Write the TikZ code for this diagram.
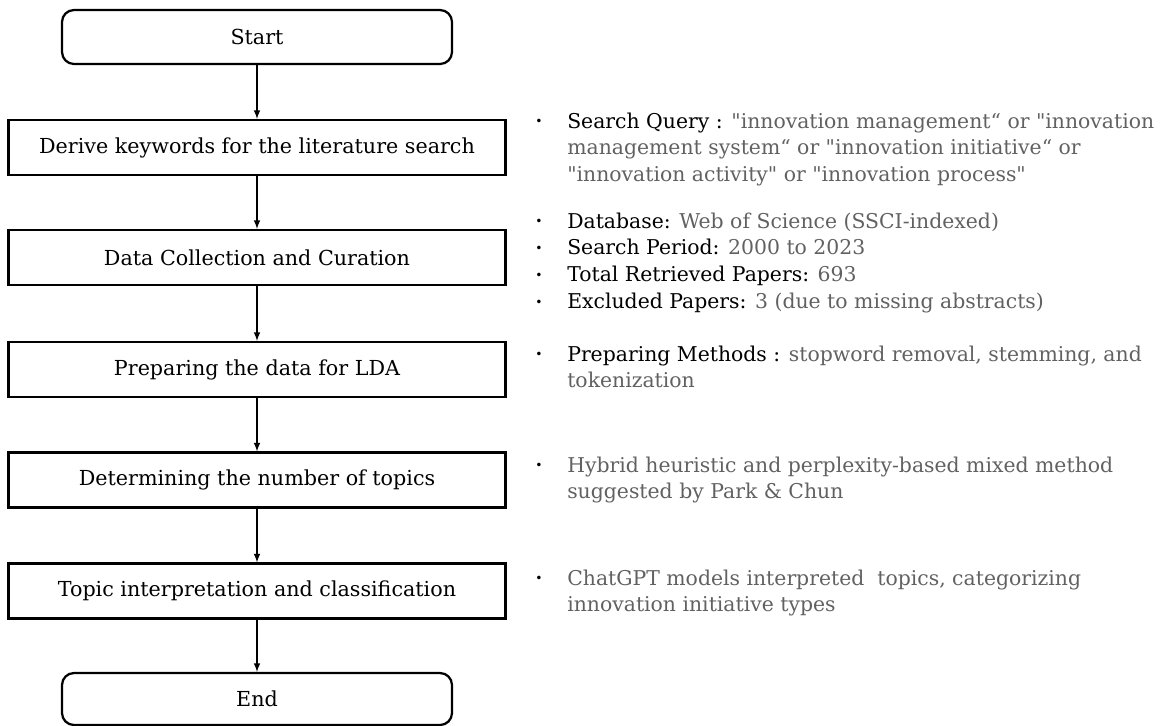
\documentclass[tikz,border=0pt]{standalone}
\usepackage{fontspec}
\setmainfont{DejaVu Serif}[Ligatures=TeXOff]
\usepackage{array}
\usepackage{graphicx}

\colorlet{notegray}{black!62}
\newcommand{\boxfont}{\fontsize{14.7}{18}\selectfont}
\newcommand{\notefont}{\fontsize{14.5}{19.2}\selectfont}
\newcommand{\lbl}[1]{{\color{black}#1}}
\newcommand{\dotmark}{\leavevmode{\color{black}\raisebox{0.12em}{\scalebox{0.6}{\textbullet}}}}

\tikzset{
  terminal/.style={draw,line width=1.6pt,rounded corners=0.3cm,minimum width=9.75cm,minimum height=1.35cm,font=\boxfont},
  process/.style={draw,line width=1.6pt,minimum width=12.425cm,minimum height=1.375cm,font=\boxfont},
  note/.style={anchor=base west,inner sep=0pt,text=notegray,font=\notefont},
  flow/.style={-latex,line width=1.1pt}
}

\begin{document}
\begin{tikzpicture}
\useasboundingbox (0,0) rectangle (29.2,-18.15);

% flow chart
\node (start)  at (6.425, -0.925)  [terminal] {Start};
\node (derive) at (6.425, -3.6875) [process]  {Derive keywords for the literature search};
\node (data)   at (6.425, -6.4375) [process]  {Data Collection and Curation};
\node (prep)   at (6.425, -9.2375) [process]  {Preparing the data for LDA};
\node (ntop)   at (6.425,-12.0)    [process]  {Determining the number of topics};
\node (interp) at (6.425,-14.775)  [process]  {Topic interpretation and classification};
\node (end)    at (6.425,-17.475)  [terminal,minimum height=1.3cm] {End};

\draw [flow] (start)  -- (derive);
\draw [flow] (derive) -- (data);
\draw [flow] (data)   -- (prep);
\draw [flow] (prep)   -- (ntop);
\draw [flow] (ntop)   -- (interp);
\draw [flow] (interp) -- (end);

% notes
\node (query) at (13.375, -3.2) [note] {\begin{tabular}[t]{@{}p{0.8cm}@{}l@{}}
  \dotmark & \lbl{Search Query :} "innovation management“ or "innovation\\
  & management system“ or "innovation initiative“ or\\
  & "innovation activity" or "innovation process"
\end{tabular}};
\node (source) at (13.375, -5.7) [note] {\begin{tabular}[t]{@{}p{0.8cm}@{}l@{}}
  \dotmark & \lbl{Database:} Web of Science (SSCI-indexed)\\
  \dotmark & \lbl{Search Period:} 2000 to 2023\\
  \dotmark & \lbl{Total Retrieved Papers:} 693\\
  \dotmark & \lbl{Excluded Papers:} 3 (due to missing abstracts)
\end{tabular}};
\node (method) at (13.375, -9.025) [note] {\begin{tabular}[t]{@{}p{0.8cm}@{}l@{}}
  \dotmark & \lbl{Preparing Methods :} stopword removal, stemming, and\\
  & tokenization
\end{tabular}};
\node (hybrid) at (13.375, -11.8) [note] {\begin{tabular}[t]{@{}p{0.8cm}@{}l@{}}
  \dotmark & Hybrid heuristic and perplexity-based mixed method\\
  & suggested by Park \& Chun
\end{tabular}};
\node (chat) at (13.375, -14.625) [note] {\begin{tabular}[t]{@{}p{0.8cm}@{}l@{}}
  \dotmark & ChatGPT models interpreted\ \ topics, categorizing\\
  & innovation initiative types
\end{tabular}};
\end{tikzpicture}
\end{document}
